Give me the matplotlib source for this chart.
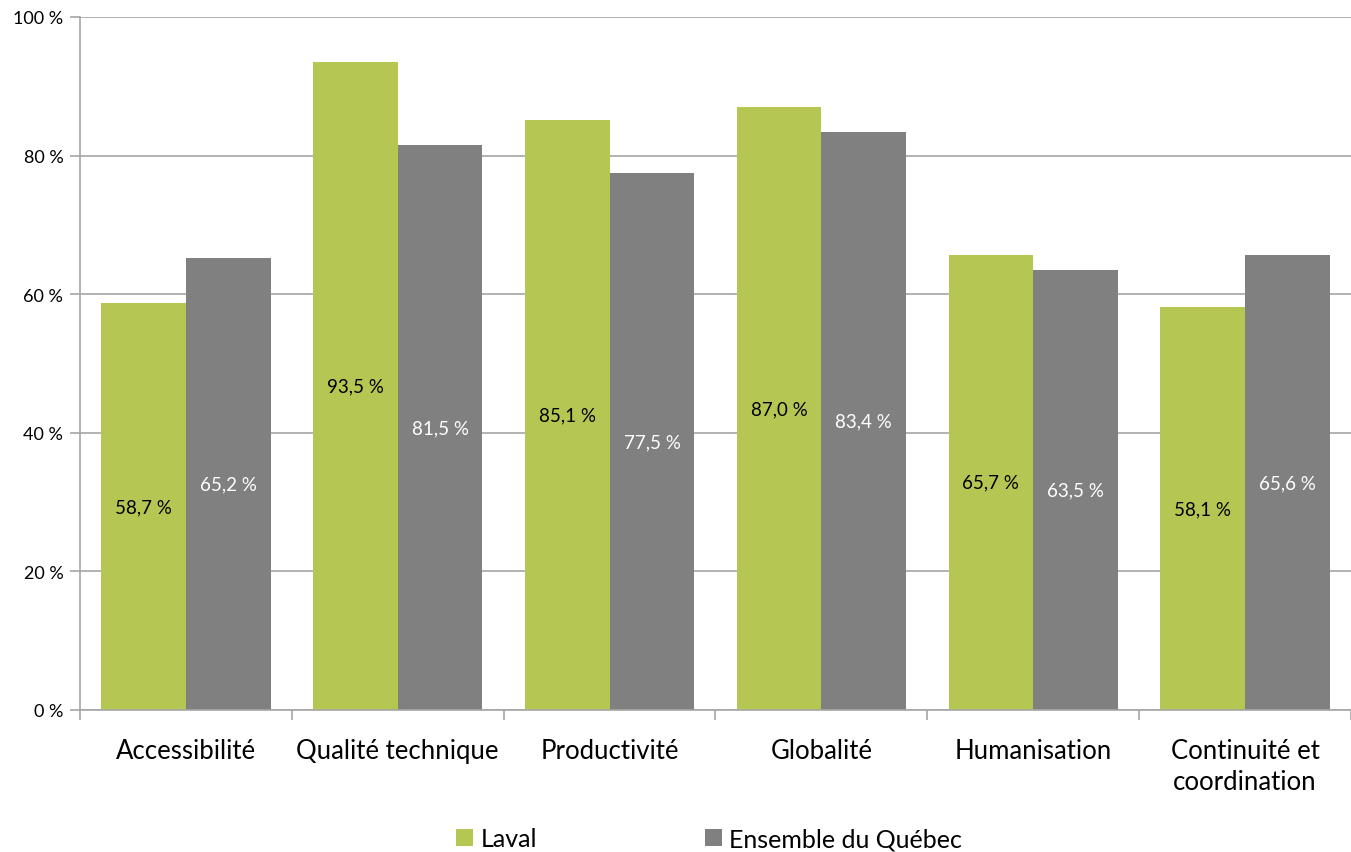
import numpy as np
import matplotlib.pyplot as plt
from matplotlib.ticker import FixedLocator, FuncFormatter

plt.rcParams['font.family'] = ['Lato', 'DejaVu Sans']

# données
categories = ['Accessibilité', 'Qualité technique', 'Productivité', 'Globalité',
              'Humanisation', 'Continuité et\ncoordination']
laval = [58.7, 93.5, 85.1, 87.0, 65.7, 58.1]
quebec = [65.2, 81.5, 77.5, 83.4, 63.5, 65.6]
series_names = ['Laval', 'Ensemble du Québec']

green = '#B5C752'
grey = '#808080'
grid_col = '#A6A6A6'

fig = plt.figure(figsize=(13.51, 8.53), dpi=100)
ax = fig.add_axes([80 / 1351, 1 - 711 / 853, 1 - 80 / 1351, (711 - 18) / 853])

x = np.arange(len(categories))
w = 0.4
b1 = ax.bar(x - w / 2, laval, w, color=green, label=series_names[0], zorder=2)
b2 = ax.bar(x + w / 2, quebec, w, color=grey, label=series_names[1], zorder=2)

fmt = lambda v: f'{v:.1f} %'.replace('.', ',')
for bars, vals, tc in ((b1, laval, 'black'), (b2, quebec, 'white')):
    for r, v in zip(bars, vals):
        ax.text(r.get_x() + r.get_width() / 2, v / 2, fmt(v), ha='center', va='center',
                color=tc, fontsize=13.5, zorder=3)

ax.set_xlim(-0.5, len(categories) - 0.5)
ax.set_ylim(0, 100)
ax.set_yticks(np.arange(0, 101, 20))
ax.yaxis.set_major_formatter(FuncFormatter(lambda v, p: f'{int(v)} %'))
ax.yaxis.grid(True, color=grid_col, lw=1.2, zorder=0)

ax.set_xticks(x)
ax.set_xticklabels(categories, fontsize=18.5, linespacing=1.3)
ax.xaxis.set_minor_locator(FixedLocator(np.arange(-0.5, len(categories), 1)))
ax.tick_params(axis='x', which='major', length=0, pad=20)
ax.tick_params(axis='x', which='minor', length=7, color=grid_col, width=1.2)
ax.tick_params(axis='y', length=7, color=grid_col, width=1.2, labelsize=13, pad=5)

for s in ('top', 'right'):
    ax.spines[s].set_visible(False)
for s in ('left', 'bottom'):
    ax.spines[s].set_color(grid_col)
    ax.spines[s].set_linewidth(1.2)

fig.legend(handles=[b1, b2], labels=series_names, loc='center', ncol=2,
           bbox_to_anchor=(709 / 1351, 1 - 840 / 853), frameon=False, fontsize=18,
           handlelength=0.68, handleheight=0.68, handletextpad=0.3, columnspacing=6.7)

fig.savefig('out.png', dpi=100)
